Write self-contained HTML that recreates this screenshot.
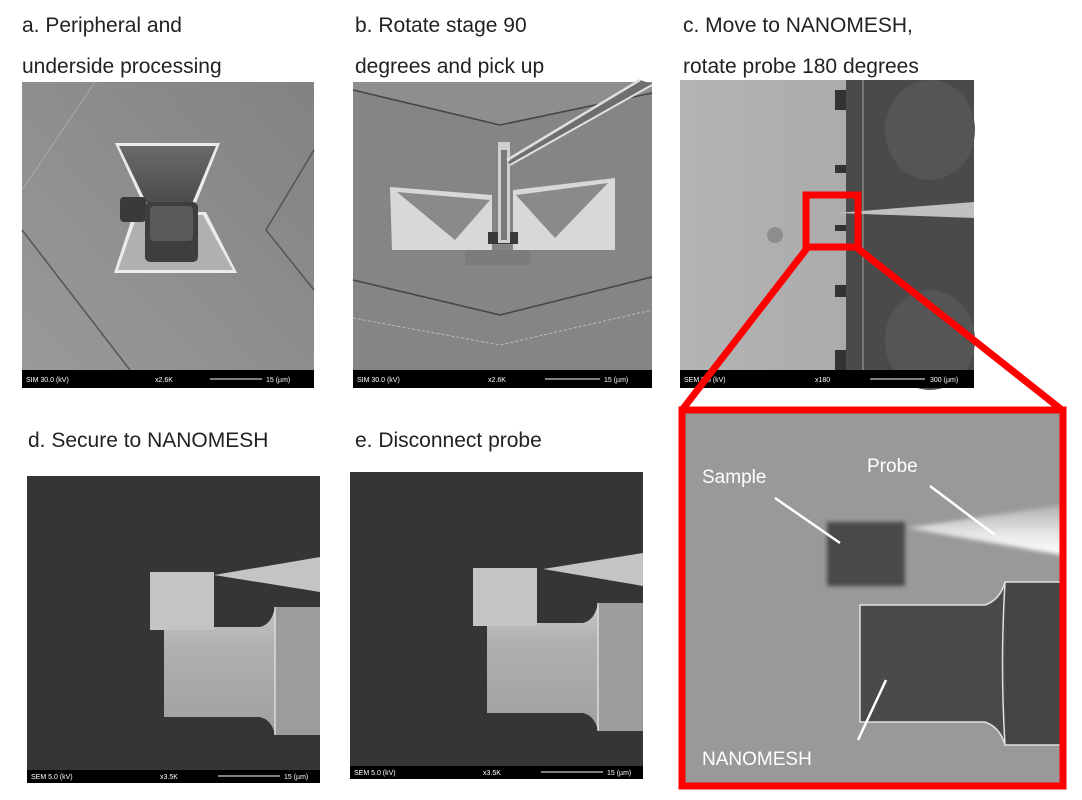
<!DOCTYPE html>
<html><head><meta charset="utf-8"><style>
body{margin:0;background:#fff;width:1082px;height:800px;overflow:hidden}
svg{display:block}
.l{font-family:"Liberation Sans",sans-serif;font-size:21px;fill:#222}
.s{font-family:"Liberation Sans",sans-serif;font-size:7px;fill:#fff}
.w{font-family:"Liberation Sans",sans-serif;font-size:19px;fill:#fff}
</style></head><body>
<svg width="1082" height="800" viewBox="0 0 1082 800">
<defs>
<linearGradient id="ga" x1="1" y1="0" x2="0" y2="1"><stop offset="0" stop-color="#828282"/><stop offset="1" stop-color="#9a9a9a"/></linearGradient>
<linearGradient id="gt" x1="0" y1="0" x2="0" y2="1"><stop offset="0" stop-color="#6a6a6a"/><stop offset="1" stop-color="#4a4a4a"/></linearGradient>
<linearGradient id="gm" x1="0" y1="0" x2="0" y2="1"><stop offset="0" stop-color="#c8c8c8"/><stop offset="0.3" stop-color="#b0b0b0"/><stop offset="1" stop-color="#a0a0a0"/></linearGradient>
<linearGradient id="gc" x1="0" y1="0" x2="1" y2="0"><stop offset="0" stop-color="#b4b4b4"/><stop offset="1" stop-color="#a4a4a4"/></linearGradient>
<linearGradient id="gp" x1="0" y1="0" x2="0" y2="1"><stop offset="0" stop-color="#b0b0b0"/><stop offset="0.6" stop-color="#e8e8e8"/><stop offset="1" stop-color="#fff"/></linearGradient>
<filter id="bl"><feGaussianBlur stdDeviation="2"/></filter>
</defs>
<text class="l" x="22" y="32">a. Peripheral and</text>
<text class="l" x="22" y="73">underside processing</text>
<text class="l" x="355" y="32">b. Rotate stage 90</text>
<text class="l" x="355" y="73">degrees and pick up</text>
<text class="l" x="683" y="32">c. Move to NANOMESH,</text>
<text class="l" x="683" y="73">rotate probe 180 degrees</text>
<text class="l" x="28" y="447">d. Secure to NANOMESH</text>
<text class="l" x="355" y="447">e. Disconnect probe</text>

<!-- panel a -->
<rect x="22" y="82" width="292" height="306" fill="url(#ga)"/>
<line x1="95" y1="82" x2="22" y2="190" stroke="#aaa" stroke-width="1"/>
<polyline points="314,150 266,230 314,290" fill="none" stroke="#555" stroke-width="1.5"/>
<line x1="22" y1="230" x2="130" y2="370" stroke="#555" stroke-width="1.5"/>
<polygon points="114,273 237,273 206,212 134,212" fill="#ececec"/>
<polygon points="118,270 233,270 203,215 137,215" fill="#b0b0b0"/>
<polygon points="115,143 220,143 194,208 145,208" fill="#ececec"/>
<polygon points="119,146 216,146 191,206 148,206" fill="url(#gt)"/>
<rect x="120" y="197" width="26" height="25" rx="4" fill="#3a3a3a"/>
<rect x="145" y="202" width="53" height="60" rx="5" fill="#3e3e3e"/>
<rect x="150" y="206" width="43" height="35" rx="4" fill="#5a5a5a"/>
<rect x="22" y="370" width="292" height="18" fill="#000"/>
<text class="s" x="26" y="382">SIM  30.0 (kV)</text><text class="s" x="155" y="382">x2.6K</text>
<line x1="210" y1="379" x2="262" y2="379" stroke="#fff"/><text class="s" x="266" y="382">15 (µm)</text>

<!-- panel b -->
<rect x="353" y="82" width="299" height="306" fill="#858585"/>
<polygon points="353,82 652,82 652,93 500,125 353,90" fill="#8e8e8e"/>
<polyline points="353,90 500,125 652,93" fill="none" stroke="#444" stroke-width="1.5"/>
<polyline points="353,280 500,315 652,277" fill="none" stroke="#444" stroke-width="1.5"/>
<polyline points="353,318 500,345 652,310" fill="none" stroke="#bbb" stroke-width="1" stroke-dasharray="3,2"/>
<polygon points="390,187 492,195 492,250 392,250" fill="#d8d8d8"/>
<polygon points="513,190 615,178 615,250 513,250" fill="#d8d8d8"/>
<polygon points="397,192 490,200 455,240" fill="#8a8a8a"/>
<polygon points="516,195 608,183 555,238" fill="#8a8a8a"/>
<rect x="488" y="232" width="30" height="12" fill="#3a3a3a"/>
<rect x="498" y="142" width="12" height="101" fill="#d0d0d0"/>
<rect x="501" y="150" width="6" height="90" fill="#7a7a7a"/>
<rect x="465" y="250" width="65" height="15" fill="#7c7c7c"/>
<polygon points="508,162 640,80 652,84 510,165" fill="#6e6e6e"/>
<line x1="507" y1="160" x2="640" y2="80" stroke="#e0e0e0" stroke-width="2.5"/>
<line x1="510" y1="165" x2="652" y2="85" stroke="#e0e0e0" stroke-width="2"/>
<rect x="353" y="370" width="299" height="18" fill="#000"/>
<text class="s" x="357" y="382">SIM  30.0 (kV)</text><text class="s" x="488" y="382">x2.6K</text>
<line x1="545" y1="379" x2="600" y2="379" stroke="#fff"/><text class="s" x="604" y="382">15 (µm)</text>

<!-- panel c -->
<rect x="680" y="80" width="294" height="308" fill="url(#gc)"/>
<rect x="846" y="80" width="128" height="308" fill="#4a4a4a"/>
<rect x="862" y="80" width="2" height="290" fill="#777"/>
<ellipse cx="930" cy="130" rx="45" ry="50" fill="#555"/>
<ellipse cx="930" cy="340" rx="45" ry="50" fill="#555"/>
<rect x="835" y="90" width="11" height="20" fill="#333"/>
<rect x="835" y="165" width="11" height="8" fill="#333"/>
<rect x="835" y="225" width="11" height="6" fill="#333"/>
<rect x="835" y="285" width="11" height="12" fill="#333"/>
<rect x="835" y="350" width="11" height="20" fill="#333"/>
<polygon points="836,213 974,202 974,218" fill="#c0c0c0"/>
<circle cx="775" cy="235" r="8" fill="#8e8e8e"/>
<rect x="680" y="370" width="294" height="18" fill="#000"/>
<text class="s" x="684" y="382">SEM 5.0 (kV)</text><text class="s" x="815" y="382">x180</text>
<line x1="870" y1="379" x2="925" y2="379" stroke="#fff"/><text class="s" x="930" y="382">300 (µm)</text>

<!-- zoom box -->
<rect x="682" y="410" width="382" height="376" fill="#999"/>
<path d="M860,605 L985,605 Q1000,600 1005,582 L1062,582 L1062,745 L1005,745 Q1000,727 985,722 L860,722 Z" fill="#4a4a4a" stroke="#e0e0e0" stroke-width="1.5"/>
<path d="M1005,582 Q1000,665 1005,745" fill="none" stroke="#e0e0e0" stroke-width="1.5"/>
<rect x="1006" y="583" width="56" height="161" fill="#444"/>
<rect x="827" y="522" width="78" height="64" fill="#4a4a4a" filter="url(#bl)"/>
<polygon points="908,528 1062,505 1062,555" fill="url(#gp)" filter="url(#bl)"/>
<line x1="775" y1="498" x2="840" y2="543" stroke="#fff" stroke-width="2.5"/>
<line x1="930" y1="486" x2="995" y2="535" stroke="#fff" stroke-width="2.5"/>
<line x1="886" y1="680" x2="858" y2="740" stroke="#fff" stroke-width="2.5"/>
<text class="w" x="702" y="483">Sample</text>
<text class="w" x="867" y="472">Probe</text>
<text class="w" x="702" y="765">NANOMESH</text>
<g stroke="#f00" fill="none" stroke-width="7">
<rect x="806" y="195" width="52" height="52"/>
<line x1="808" y1="247" x2="682" y2="410"/>
<line x1="856" y1="247" x2="1062" y2="410"/>
<rect x="682" y="410" width="381" height="376"/>
</g>

<!-- panel d -->
<g>
<rect x="27" y="476" width="293" height="307" fill="#353535"/>
<path d="M164,627 L260,627 Q272,624 275,607 L320,607 L320,735 L275,735 Q272,720 260,717 L164,717 Z" fill="url(#gm)"/>
<rect x="275" y="607" width="45" height="128" fill="#9c9c9c"/>
<line x1="275" y1="607" x2="275" y2="735" stroke="#ddd" stroke-width="1.5"/>
<rect x="150" y="572" width="64" height="58" fill="#c4c4c4"/>
<polygon points="214,575 320,557 320,592" fill="#c4c4c4"/>
<rect x="27" y="770" width="293" height="13" fill="#000"/>
<text class="s" x="31" y="779">SEM 5.0 (kV)</text><text class="s" x="160" y="779">x3.5K</text>
<line x1="218" y1="776" x2="280" y2="776" stroke="#fff"/><text class="s" x="284" y="779">15 (µm)</text>
</g>

<!-- panel e -->
<g transform="translate(323,-4)">
<rect x="27" y="476" width="293" height="307" fill="#353535"/>
<path d="M164,627 L260,627 Q272,624 275,607 L320,607 L320,735 L275,735 Q272,720 260,717 L164,717 Z" fill="url(#gm)"/>
<rect x="275" y="607" width="45" height="128" fill="#9c9c9c"/>
<line x1="275" y1="607" x2="275" y2="735" stroke="#ddd" stroke-width="1.5"/>
<rect x="150" y="572" width="64" height="58" fill="#c4c4c4"/>
<polygon points="220,573 320,557 320,590" fill="#c4c4c4"/>
<rect x="27" y="770" width="293" height="13" fill="#000"/>
<text class="s" x="31" y="779">SEM 5.0 (kV)</text><text class="s" x="160" y="779">x3.5K</text>
<line x1="218" y1="776" x2="280" y2="776" stroke="#fff"/><text class="s" x="284" y="779">15 (µm)</text>
</g>
</svg>
</body></html>
